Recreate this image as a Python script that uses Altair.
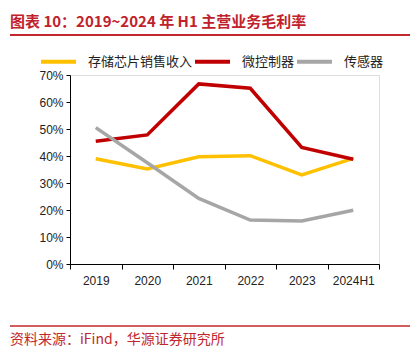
import altair as alt
import pandas as pd

years = ["2019", "2020", "2021", "2022", "2023", "2024H1"]
series_names = ["存储芯片销售收入", "微控制器", "传感器"]
storage = [0.390, 0.352, 0.397, 0.401, 0.330, 0.391]
mcu = [0.455, 0.478, 0.667, 0.651, 0.432, 0.388]
sensor = [0.505, 0.375, 0.243, 0.163, 0.159, 0.199]
colors = ["#FFC000", "#C00000", "#A6A6A6"]

rows = []
for name, vals in zip(series_names, [storage, mcu, sensor]):
    for y, v in zip(years, vals):
        rows.append({"year": y, "series": name, "value": v})
df = pd.DataFrame(rows)

FONT = "Noto Sans CJK SC"
RED = "#C0282D"

lines = alt.Chart(df).mark_line(strokeWidth=3.5).encode(
    x=alt.X("year:N", sort=years, bandPosition=0.5,
            scale=alt.Scale(type="band", paddingInner=0, paddingOuter=0),
            axis=alt.Axis(title=None, tickBand="extent", labelAngle=0, labelFontSize=12,
                          labelColor="#222", domainColor="#000", tickColor="#000",
                          tickSize=5, labelPadding=6, labelFont="Liberation Sans")),
    y=alt.Y("value:Q", scale=alt.Scale(domain=[0, 0.7]),
            axis=alt.Axis(title=None, format=".0%", values=[0, 0.1, 0.2, 0.3, 0.4, 0.5, 0.6, 0.7],
                          grid=False, labelFontSize=12, labelColor="#222", domainColor="#000",
                          tickColor="#000", tickSize=4, labelPadding=3, labelFont="Liberation Sans")),
    color=alt.Color("series:N", sort=series_names,
                    scale=alt.Scale(domain=series_names, range=colors),
                    legend=alt.Legend(title=None, orient="none", legendX=-31, legendY=-33,
                                      direction="horizontal", symbolType="stroke",
                                      symbolSize=1225, symbolStrokeWidth=4, labelFontSize=13,
                                      labelFont=FONT, labelColor="#222", labelOffset=10,
                                      columnPadding=-12)),
)

title = alt.Chart(pd.DataFrame({"t": ["图表 10：2019~2024 年 H1 主营业务毛利率"]})).mark_text(
    align="left", baseline="middle", fontSize=15, fontWeight="bold", font=FONT, color="#C0222B"
).encode(x=alt.value(-60), y=alt.value(-53), text="t:N")

title_rule = alt.Chart(pd.DataFrame({"a": [0]})).mark_rule(color=RED, strokeWidth=2).encode(
    x=alt.value(-60), x2=alt.value(340), y=alt.value(-40))

foot_rule = alt.Chart(pd.DataFrame({"a": [0]})).mark_rule(color=RED, strokeWidth=1.5).encode(
    x=alt.value(-60), x2=alt.value(340), y=alt.value(251))

footer = alt.Chart(pd.DataFrame({"t": ["资料来源：iFind，华源证券研究所"]})).mark_text(
    align="left", baseline="middle", fontSize=14, font=FONT, color=RED
).encode(x=alt.value(-60), y=alt.value(265), text="t:N")

chart = alt.layer(lines, title, title_rule, foot_rule, footer).properties(
    width=309, height=189,
    autosize=alt.AutoSizeParams(type="none"),
    padding={"left": 70, "top": 75, "right": 34, "bottom": 87},
).configure_view(stroke=None).configure(background="white")

chart.save("out.html", embed_options={"renderer": "svg", "actions": False})
